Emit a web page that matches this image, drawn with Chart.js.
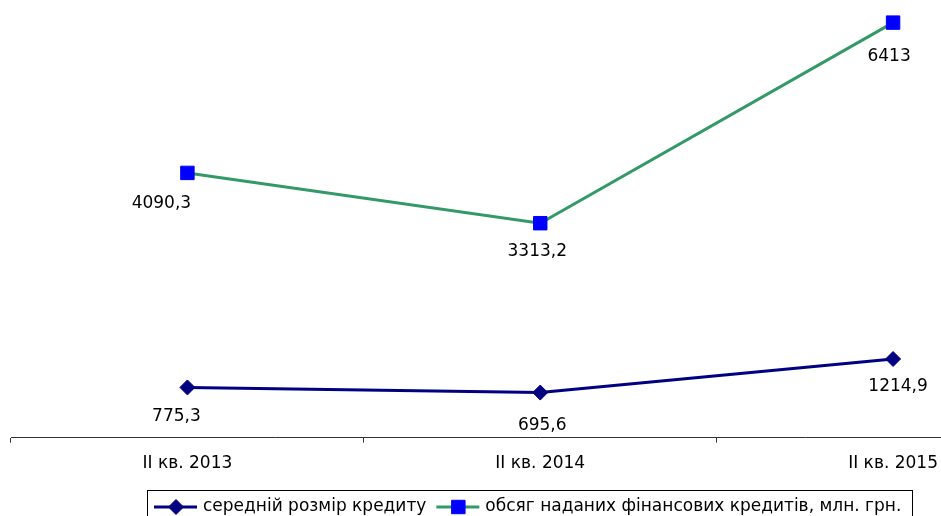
<!DOCTYPE html>
<html>
<head>
<meta charset="utf-8">
<script src="https://cdn.jsdelivr.net/npm/chart.js@4"></script>
<style>
  html, body { margin: 0; padding: 0; background: #fff; overflow: hidden; }
  #wrap { position: relative; width: 1080px; height: 516px; }
</style>
</head>
<body>
<div id="wrap"><canvas id="chart" width="1080" height="516"></canvas></div>
<script>
// Дані діаграми
const categories = ['II кв. 2013', 'II кв. 2014', 'II кв. 2015'];
const avgCredit = [775.3, 695.6, 1214.9];
const creditVolume = [4090.3, 3313.2, 6413];
const seriesNames = ['середній розмір кредиту', 'обсяг наданих фінансових кредитів, млн. грн.'];

const FONT = '"DejaVu Sans", Arial, sans-serif';

// Підписи значень під точками
const valueLabels = {
    id: 'valueLabels',
    afterDatasetsDraw(chart) {
        const ctx = chart.ctx;
        // зсув підпису відносно точки [dx, dy]
        const shifts = [
            [[-11, 29], [2, 33], [5, 28]],
            [[-26, 31], [-3, 28], [-4, 34]]
        ];
        ctx.save();
        ctx.font = '17px ' + FONT;
        ctx.fillStyle = '#000';
        ctx.textAlign = 'center';
        ctx.textBaseline = 'middle';
        chart.data.datasets.forEach((ds, i) => {
            chart.getDatasetMeta(i).data.forEach((pt, j) => {
                const txt = String(ds.data[j]).replace('.', ',');
                ctx.fillText(txt, pt.x + shifts[i][j][0], pt.y + shifts[i][j][1]);
            });
        });
        ctx.restore();
    }
};

// Легенда в рамці внизу
const boxLegend = {
    id: 'boxLegend',
    afterDraw(chart) {
        const ctx = chart.ctx;
        ctx.save();
        ctx.strokeStyle = '#000';
        ctx.lineWidth = 1;
        ctx.strokeRect(147.5, 490.5, 765, 40);
        ctx.font = '17px ' + FONT;
        ctx.textBaseline = 'middle';
        const y = 507;
        let x = 154;
        chart.data.datasets.forEach((ds) => {
            ctx.strokeStyle = ds.borderColor;
            ctx.lineWidth = 3;
            ctx.beginPath();
            ctx.moveTo(x, y);
            ctx.lineTo(x + 43, y);
            ctx.stroke();
            ctx.fillStyle = ds.pointBackgroundColor;
            ctx.strokeStyle = ds.pointBorderColor;
            ctx.lineWidth = 1;
            Chart.helpers.drawPoint(ctx, {
                pointStyle: ds.pointStyle,
                radius: ds.pointRadius,
                borderWidth: 1
            }, x + 22, y);
            ctx.fillStyle = '#000';
            ctx.fillText(ds.label, x + 49, y);
            x += 49 + ctx.measureText(ds.label).width + 10;
        });
        ctx.restore();
    }
};

const ctx = document.getElementById('chart');
new Chart(ctx, {
    type: 'line',
    data: {
        labels: categories,
        datasets: [{
            label: seriesNames[0],
            data: avgCredit,
            borderColor: '#000080',
            borderWidth: 3,
            pointStyle: 'rectRot',
            pointRadius: 7.5,
            pointBackgroundColor: '#000080',
            pointBorderColor: '#000080',
            pointBorderWidth: 1,
            tension: 0
        }, {
            label: seriesNames[1],
            data: creditVolume,
            borderColor: '#339966',
            borderWidth: 3,
            pointStyle: 'rect',
            pointRadius: 9.5,
            pointBackgroundColor: '#0000ff',
            pointBorderColor: '#0000ff',
            pointBorderWidth: 1,
            tension: 0
        }]
    },
    options: {
        responsive: false,
        animation: false,
        layout: { padding: { left: 11, right: 7, top: 9, bottom: 31 } },
        plugins: {
            legend: { display: false },
            tooltip: { enabled: false }
        },
        scales: {
            x: {
                offset: true,
                grid: {
                    offset: true,
                    drawOnChartArea: false,
                    color: '#333',
                    tickLength: 5
                },
                border: { color: '#333', width: 1 },
                ticks: {
                    color: '#000',
                    padding: 11,
                    font: { family: FONT, size: 17 }
                }
            },
            y: {
                display: false,
                min: 0,
                max: 6600
            }
        }
    },
    plugins: [valueLabels, boxLegend]
});
</script>
</body>
</html>
